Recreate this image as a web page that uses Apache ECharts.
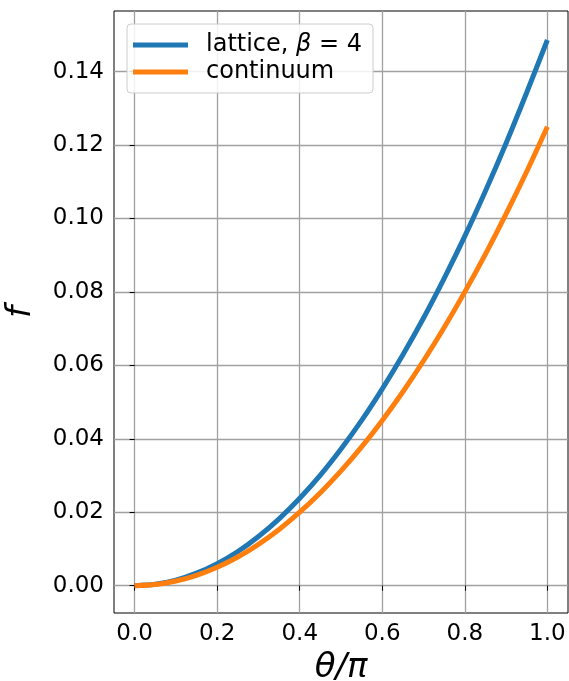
<!DOCTYPE html>
<html>
<head>
<meta charset="utf-8">
<script src="https://cdn.jsdelivr.net/npm/echarts@6/dist/echarts.min.js"></script>
<style>
  html, body { margin: 0; padding: 0; background: #fff; }
  #chart1 { width: 569px; height: 681px; }
</style>
</head>
<body>
<div id="chart1"></div>
<script>
// theta / pi sample positions
const thetaVals = [0, 0.05, 0.1, 0.15, 0.2, 0.25, 0.3, 0.35, 0.4, 0.45, 0.5,
                   0.55, 0.6, 0.65, 0.7, 0.75, 0.8, 0.85, 0.9, 0.95, 1.0]
// lattice, beta = 4
const latticeVals = [0, 0.00037, 0.0015, 0.0034, 0.006, 0.0093, 0.0134, 0.0182, 0.0238, 0.0301, 0.0372,
                     0.045, 0.0536, 0.0629, 0.0729, 0.0837, 0.0952, 0.1075, 0.1205, 0.1343, 0.1486]
// continuum
const continuumVals = [0, 0.0003, 0.00125, 0.0028, 0.005, 0.0078, 0.01125, 0.0153, 0.02, 0.0253, 0.03125,
                       0.0378, 0.045, 0.0528, 0.06125, 0.0703, 0.08, 0.0903, 0.10125, 0.1128, 0.125]
const xTicks = [0, 0.2, 0.4, 0.6, 0.8, 1.0]
const yTicks = [0, 0.02, 0.04, 0.06, 0.08, 0.10, 0.12, 0.14]

const chart1 = echarts.init(document.getElementById('chart1'))
const font = 'DejaVu Sans'
const gridColor = '#a0a0a0'

const pairs = (ys) => thetaVals.map((x, i) => [x, ys[i]])

const option = {
    animation: false,
    color: ['#1f77b4', '#ff7f0e'],
    grid: {
        left: 114,
        right: 1,
        top: 11,
        bottom: 68,
        outerBoundsMode: 'none',
        containLabel: false,
        show: true,
        borderColor: '#000',
        borderWidth: 1,
        backgroundColor: 'transparent'
    },
    legend: {
        orient: 'vertical',
        left: 127,
        top: 24,
        padding: [9, 11, 9, 6],
        itemGap: 3,
        itemWidth: 55,
        itemHeight: 5,
        icon: 'rect',
        backgroundColor: 'rgba(255,255,255,0.85)',
        borderColor: '#cccccc',
        borderWidth: 1,
        borderRadius: 4,
        data: ['lattice', 'continuum'],
        formatter: function (name) {
            if (name === 'lattice') {
                return '{a|lattice, }{b|β}{a| = 4}'
            }
            return '{a|continuum}'
        },
        textStyle: {
            fontFamily: font,
            fontSize: 24,
            color: '#000',
            padding: [0, 0, 0, 13],
            rich: {
                a: { fontFamily: font, fontSize: 24, color: '#000' },
                b: { fontFamily: font, fontSize: 24, fontStyle: 'italic', color: '#000' }
            }
        }
    },
    xAxis: {
        type: 'value',
        min: -0.05,
        max: 1.05,
        name: 'θ/π',
        nameLocation: 'middle',
        nameGap: 35,
        nameTextStyle: {
            fontFamily: font,
            fontSize: 34,
            fontStyle: 'italic',
            color: '#000'
        },
        axisLine: { show: false },
        axisTick: {
            show: true,
            length: 5,
            customValues: xTicks,
            lineStyle: { color: '#000', width: 1 }
        },
        axisLabel: {
            customValues: xTicks,
            margin: 10,
            fontFamily: font,
            fontSize: 23,
            color: '#000',
            formatter: (v) => v.toFixed(1)
        },
        splitLine: {
            show: true,
            lineStyle: { color: gridColor, width: 1.3 }
        }
    },
    yAxis: {
        type: 'value',
        min: -0.00745,
        max: 0.1565,
        name: 'f',
        nameLocation: 'middle',
        nameGap: 76,
        nameRotate: 90,
        nameTextStyle: {
            fontFamily: font,
            fontSize: 34,
            fontStyle: 'italic',
            color: '#000'
        },
        axisLine: { show: false },
        axisTick: {
            show: true,
            length: 5,
            customValues: yTicks,
            lineStyle: { color: '#000', width: 1 }
        },
        axisLabel: {
            customValues: yTicks,
            margin: 10,
            fontFamily: font,
            fontSize: 23,
            color: '#000',
            formatter: (v) => v.toFixed(2)
        },
        splitLine: {
            show: true,
            lineStyle: { color: gridColor, width: 1.3 }
        }
    },
    series: [
        {
            name: 'lattice',
            type: 'line',
            data: pairs(latticeVals),
            smooth: 0.3,
            symbol: 'none',
            lineStyle: { width: 5, color: '#1f77b4' }
        },
        {
            name: 'continuum',
            type: 'line',
            data: pairs(continuumVals),
            smooth: 0.3,
            symbol: 'none',
            lineStyle: { width: 5, color: '#ff7f0e' }
        }
    ]
}
chart1.setOption(option)
</script>
</body>
</html>
